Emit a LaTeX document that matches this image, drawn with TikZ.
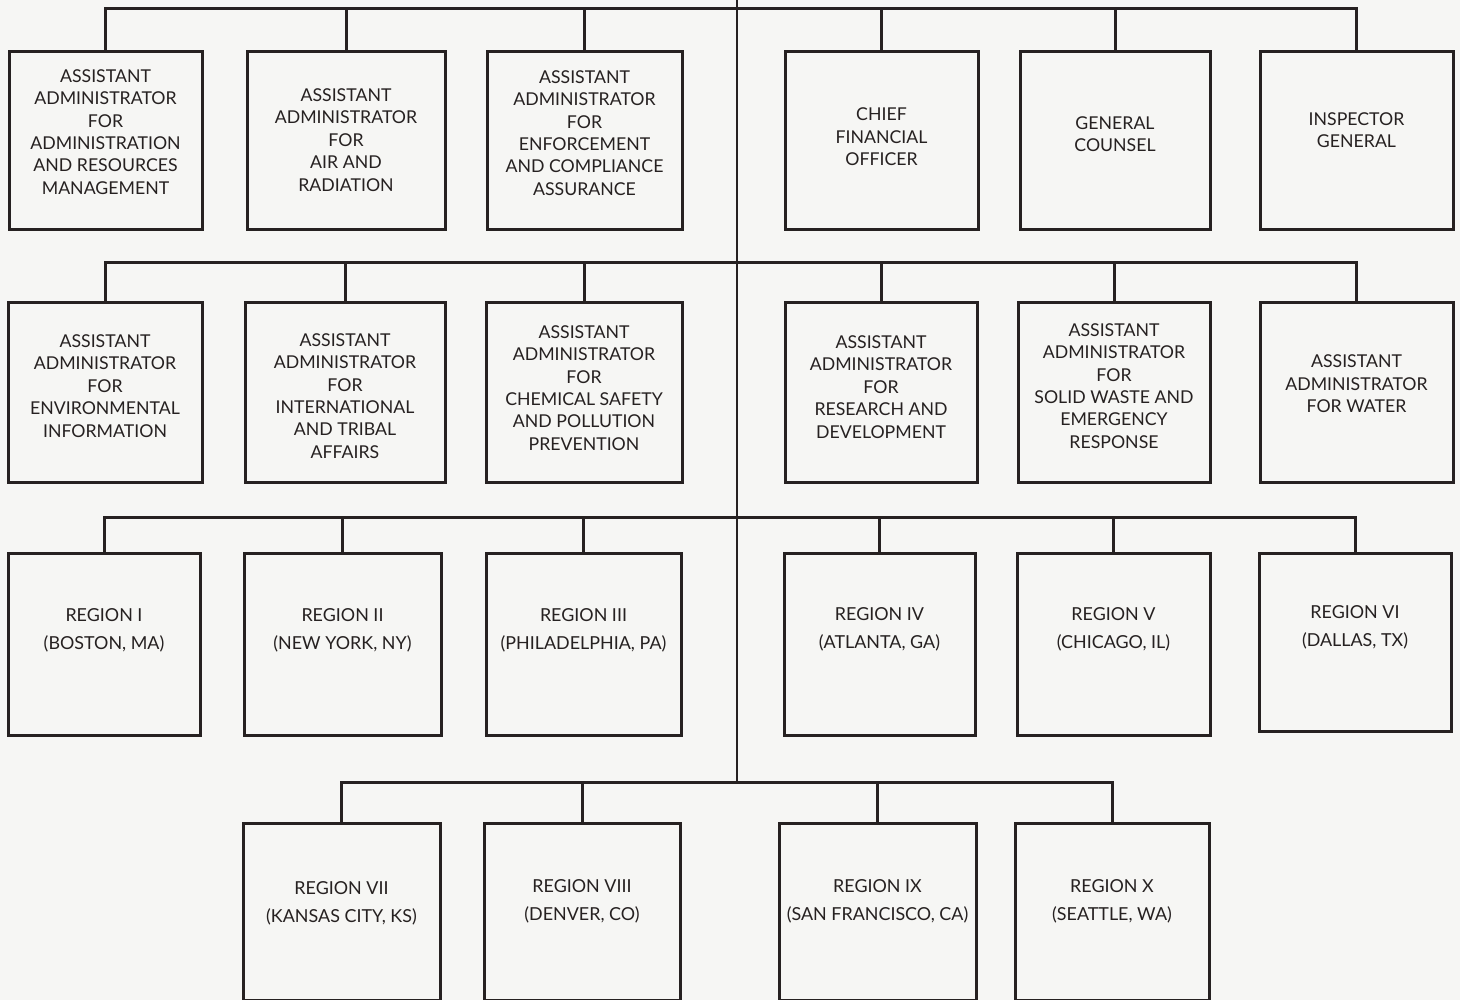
\documentclass[tikz,border=0pt]{standalone}
\usepackage{fontspec}
\setmainfont{Lato}
\definecolor{ink}{HTML}{262121}
\definecolor{paper}{HTML}{F6F6F4}
\begin{document}
\begin{tikzpicture}[x=1pt,y=-1pt,
  box/.style={draw=ink,line width=3pt,rectangle,inner sep=0pt},
  conn/.style={draw=ink,line width=3pt},
  trunk/.style={draw=ink,line width=2.2pt},
  txt/.style={text=ink,align=center,font=\fontsize{17.7}{22.4}\selectfont,inner sep=0pt},
  rtxt/.style={text=ink,align=center,font=\fontsize{17.9}{28}\selectfont,inner sep=0pt}]
\fill[paper] (0,0) rectangle (1460,1000);
\useasboundingbox (0,0) rectangle (1460,1000);
% boxes: \bx{name}{left}{right}{top}{bottom}
\newcommand\bx[5]{\node[box,minimum width={#3-#2},minimum height={#5-#4}] (#1) at ({(#2+#3)/2},{(#4+#5)/2}) {};}
% row 1
\bx{a1}{9}{202}{52}{230}
\bx{a2}{247}{445}{52}{230}
\bx{a3}{487}{682}{52}{230}
\bx{a4}{785}{978}{52}{230}
\bx{a5}{1020}{1210}{52}{230}
\bx{a6}{1260}{1453}{52}{230}
% row 2
\bx{b1}{8}{202}{303}{482}
\bx{b2}{245}{445}{303}{482}
\bx{b3}{486}{682}{303}{482}
\bx{b4}{785}{977}{303}{482}
\bx{b5}{1018}{1210}{303}{482}
\bx{b6}{1260}{1453}{303}{482}
% row 3
\bx{c1}{8}{200}{553}{735}
\bx{c2}{244}{441}{553}{735}
\bx{c3}{486}{681}{553}{735}
\bx{c4}{784}{975}{553}{735}
\bx{c5}{1017}{1210}{553}{735}
\bx{c6}{1259}{1451}{553}{731}
% row 4
\bx{d1}{243}{440}{823}{1000}
\bx{d2}{484}{680}{823}{1000}
\bx{d3}{779}{976}{823}{1000}
\bx{d4}{1015}{1209}{823}{1000}
% texts
\node[txt] (ta1) at (a1.center |- 0,132) {ASSISTANT\\ADMINISTRATOR\\FOR\\ADMINISTRATION\\AND RESOURCES\\MANAGEMENT};
\node[txt] (ta2) at (a2.center |- 0,140) {ASSISTANT\\ADMINISTRATOR\\FOR\\AIR AND\\RADIATION};
\node[txt] (ta3) at (a3.center |- 0,133) {ASSISTANT\\ADMINISTRATOR\\FOR\\ENFORCEMENT\\AND COMPLIANCE\\ASSURANCE};
\node[txt] (ta4) at (a4.center |- 0,137) {CHIEF\\FINANCIAL\\OFFICER};
\node[txt] (ta5) at (a5.center |- 0,134) {GENERAL\\COUNSEL};
\node[txt] (ta6) at (a6.center |- 0,130) {INSPECTOR\\GENERAL};
\node[txt] (tb1) at (b1.center |- 0,386) {ASSISTANT\\ADMINISTRATOR\\FOR\\ENVIRONMENTAL\\INFORMATION};
\node[txt] (tb2) at (b2.center |- 0,396) {ASSISTANT\\ADMINISTRATOR\\FOR\\INTERNATIONAL\\AND TRIBAL\\AFFAIRS};
\node[txt] (tb3) at (b3.center |- 0,388) {ASSISTANT\\ADMINISTRATOR\\FOR\\CHEMICAL SAFETY\\AND POLLUTION\\PREVENTION};
\node[txt] (tb4) at (b4.center |- 0,387) {ASSISTANT\\ADMINISTRATOR\\FOR\\RESEARCH AND\\DEVELOPMENT};
\node[txt] (tb5) at (b5.center |- 0,386) {ASSISTANT\\ADMINISTRATOR\\FOR\\SOLID WASTE AND\\EMERGENCY\\RESPONSE};
\node[txt] (tb6) at (b6.center |- 0,384) {ASSISTANT\\ADMINISTRATOR\\FOR WATER};
\node[rtxt] (tc1) at (c1.center |- 0,630) {REGION I\\(BOSTON, MA)};
\node[rtxt] (tc2) at (c2.center |- 0,630) {REGION II\\(NEW YORK, NY)};
\node[rtxt] (tc3) at (c3.center |- 0,630) {REGION III\\(PHILADELPHIA, PA)};
\node[rtxt] (tc4) at (c4.center |- 0,629) {REGION IV\\(ATLANTA, GA)};
\node[rtxt] (tc5) at (c5.center |- 0,629) {REGION V\\(CHICAGO, IL)};
\node[rtxt] (tc6) at (c6.center |- 0,627) {REGION VI\\(DALLAS, TX)};
\node[rtxt] (td1) at (d1.center |- 0,903) {REGION VII\\(KANSAS CITY, KS)};
\node[rtxt] (td2) at (d2.center |- 0,901) {REGION VIII\\(DENVER, CO)};
\node[rtxt] (td3) at (d3.center |- 0,901) {REGION IX\\(SAN FRANCISCO, CA)};
\node[rtxt] (td4) at (d4.center |- 0,901) {REGION X\\(SEATTLE, WA)};
% connectors
\coordinate (top) at (737,0);
\coordinate (bus1) at (737,9);
\coordinate (bus2) at (737,263);
\coordinate (bus3) at (737,517);
\coordinate (bus4) at (737,782);
\draw[trunk] (top) -- (bus4);
\draw[conn] (a1.north) |- (bus1) -| (a6.north);
\foreach \n in {a2,a3,a4,a5} \draw[conn] (\n.north) -- (\n.north |- bus1);
\draw[conn] (b1.north) |- (bus2) -| (b6.north);
\foreach \n in {b2,b3,b4,b5} \draw[conn] (\n.north) -- (\n.north |- bus2);
\draw[conn] (c1.north) |- (bus3) -| (c6.north);
\foreach \n in {c2,c3,c4,c5} \draw[conn] (\n.north) -- (\n.north |- bus3);
\draw[conn] (d1.north) |- (bus4) -| (d4.north);
\foreach \n in {d2,d3} \draw[conn] (\n.north) -- (\n.north |- bus4);
\end{tikzpicture}
\end{document}
